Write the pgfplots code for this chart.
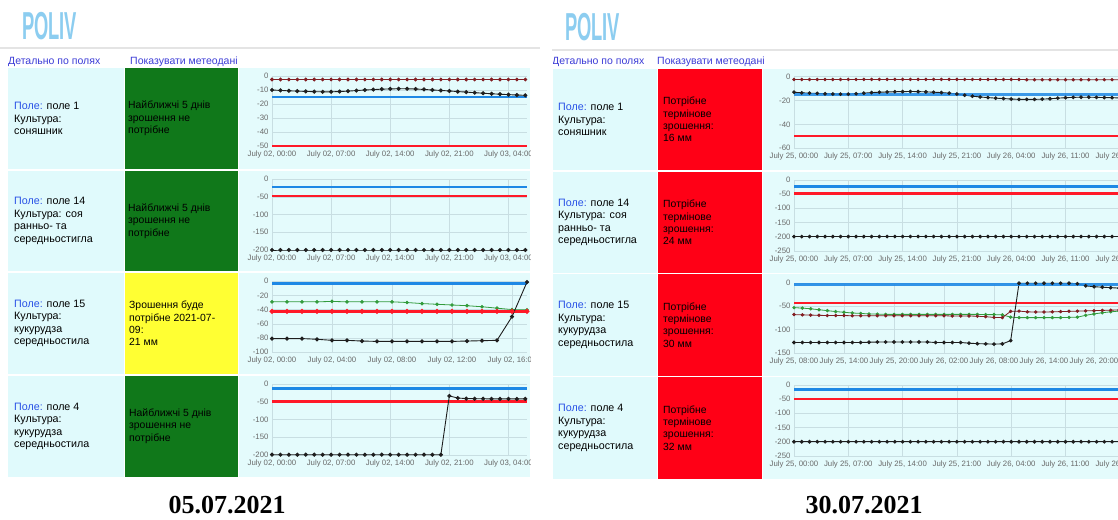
\documentclass[border=0pt]{standalone}
\usepackage{fontspec}
\setmainfont{Liberation Sans}
\newfontfamily\datefont{Liberation Serif}
\usepackage{graphicx}
\usepackage{pgfplots}
\pgfplotsset{compat=1.18}

\definecolor{panelc}{RGB}{224,250,252}
\definecolor{chartc}{RGB}{228,251,252}
\definecolor{gridc}{RGB}{200,222,226}
\definecolor{tickc}{RGB}{105,105,105}
\definecolor{okgreen}{RGB}{16,120,26}
\definecolor{warnyel}{RGB}{255,255,51}
\definecolor{alarmred}{RGB}{255,0,22}
\definecolor{linkc}{RGB}{60,60,215}
\definecolor{fieldc}{RGB}{40,80,230}
\definecolor{logoc}{RGB}{140,205,240}
\definecolor{sepc}{RGB}{228,228,228}
\definecolor{serblue}{RGB}{30,136,229}
\definecolor{serred}{RGB}{255,25,40}
\definecolor{serbrown}{RGB}{130,30,35}
\definecolor{sergreen}{RGB}{50,155,60}
\definecolor{serblack}{RGB}{30,30,30}

\pgfplotsset{
  mini/.style={scale only axis, anchor=south west, clip=false,
    xmin=0, ymax=0, grid=major, grid style={gridc, line width=0.4pt},
    axis line style={draw=none}, major tick length=0pt,
    tick label style={font=\fontsize{7.8}{8.5}\selectfont, text=tickc},
    xticklabel style={yshift=-1.5pt}},
  blk/.style={serblack, line width=0.9pt, mark=*, mark size=1.6pt, mark options={fill=serblack}},
  brn/.style={serbrown, line width=0.8pt, mark=*, mark size=1.5pt, mark options={fill=serbrown}},
  grn/.style={sergreen, line width=0.8pt, mark=*, mark size=1.4pt, mark options={fill=sergreen}},
  lvl/.style={line width=2.6pt, mark=none},
}

\begin{document}
\begin{tikzpicture}
\useasboundingbox (0,0) rectangle (1118pt,-519pt);
\clip (0,0) rectangle (1118pt,-519pt);
\begin{scope}[x=1pt,y=-1pt]
  \fill[white] (0,0) rectangle (1118,519);
  % logos and separators
  \node[anchor=west, inner sep=0, text=logoc, font=\bfseries\fontsize{39}{39}\selectfont] at (22,26) {\scalebox{0.47}[1]{POLIV}};
  \node[anchor=west, inner sep=0, text=logoc, font=\bfseries\fontsize{39}{39}\selectfont] at (565,27) {\scalebox{0.47}[1]{POLIV}};
  \fill[sepc] (0,47) rectangle (540,49);
  \fill[sepc] (552,49) rectangle (1118,51);
  % links
  \node[anchor=base west, inner sep=0, text=linkc, font=\fontsize{10.5}{12}\selectfont] at (8,64) {Детально по полях};
  \node[anchor=base west, inner sep=0, text=linkc, font=\fontsize{10.5}{12}\selectfont] at (130,64) {Показувати метеодані};
  \node[anchor=base west, inner sep=0, text=linkc, font=\fontsize{10.5}{12}\selectfont] at (552,64) {Детально по полях};
  \node[anchor=base west, inner sep=0, text=linkc, font=\fontsize{10.5}{12}\selectfont] at (657,64) {Показувати метеодані};
  % left backgrounds
  \foreach \a/\b in {68/169,171/271,273/374,376/477}{
    \fill[panelc] (8,\a) rectangle (124,\b);
    \fill[chartc] (239,\a) rectangle (530,\b);
  }
  \fill[okgreen] (125,68) rectangle (238,169);
  \fill[okgreen] (125,171) rectangle (238,271);
  \fill[warnyel] (125,273) rectangle (238,374);
  \fill[okgreen] (125,376) rectangle (238,477);
  % right backgrounds
  \foreach \a/\b in {69/170,172/273,274/376,377/479}{
    \fill[panelc] (553,\a) rectangle (657,\b);
    \fill[alarmred] (658,\a) rectangle (762,\b);
    \fill[chartc] (763,\a) rectangle (1118,\b);
  }
  % field texts
  \begin{scope}[every node/.style={anchor=west, align=left, inner sep=0, font=\fontsize{10.7}{12.4}\selectfont}]
    \node at (14,118.5) {\textcolor{fieldc}{Поле:} поле 1\\Культура:\\соняшник};
    \node at (14,221) {\textcolor{fieldc}{Поле:} поле 14\\Культура: соя\\ранньо- та\\середньостигла};
    \node at (14,323.5) {\textcolor{fieldc}{Поле:} поле 15\\Культура:\\кукурудза\\середньостила};
    \node at (14,426.5) {\textcolor{fieldc}{Поле:} поле 4\\Культура:\\кукурудза\\середньостила};
    \node at (558,119.5) {\textcolor{fieldc}{Поле:} поле 1\\Культура:\\соняшник};
    \node at (558,222.5) {\textcolor{fieldc}{Поле:} поле 14\\Культура: соя\\ранньо- та\\середньостигла};
    \node at (558,325) {\textcolor{fieldc}{Поле:} поле 15\\Культура:\\кукурудза\\середньостила};
    \node at (558,428) {\textcolor{fieldc}{Поле:} поле 4\\Культура:\\кукурудза\\середньостила};
  \end{scope}
  % status texts
  \begin{scope}[every node/.style={anchor=west, align=left, inner sep=0, font=\fontsize{10.4}{12.4}\selectfont}]
    \node at (128,118.5) {Найближчі 5 днів\\зрошення не\\потрібне};
    \node at (128,221) {Найближчі 5 днів\\зрошення не\\потрібне};
    \node at (129,323.5) {Зрошення буде\\потрібне 2021-07-\\09:\\21 мм};
    \node at (129,426) {Найближчі 5 днів\\зрошення не\\потрібне};
    \node at (663,119.5) {Потрібне\\термінове\\зрошення:\\16 мм};
    \node at (663,222.5) {Потрібне\\термінове\\зрошення:\\24 мм};
    \node at (663,325) {Потрібне\\термінове\\зрошення:\\30 мм};
    \node at (663,428) {Потрібне\\термінове\\зрошення:\\32 мм};
  \end{scope}
  % dates
  \node[font=\datefont\bfseries\fontsize{26}{28}\selectfont] at (227,505) {05.07.2021};
  \node[font=\datefont\bfseries\fontsize{26}{28}\selectfont] at (864,505) {30.07.2021};
\end{scope}

% ---------- left: 05.07.2021 ----------
\begin{axis}[mini, at={(272pt,-146pt)}, width=255pt, height=70pt, xmax=30.2, ymin=-50,
  xtick={0,7,14,21,28}, xticklabels={{July 02, 00:00},{July 02, 07:00},{July 02, 14:00},{July 02, 21:00},{July 03, 04:00}},
  ytick={0,-10,-20,-30,-40,-50}, yticklabels={0,-10,-20,-30,-40,-50}]
  \addplot[serred, lvl] coordinates {(0,-50) (30.2,-50)};
  \addplot[serblue, lvl] coordinates {(0,-15) (30.2,-15)};
  \addplot[brn] coordinates {(0,-2.5) (1,-2.5) (2,-2.5) (3,-2.5) (4,-2.5) (5,-2.5) (6,-2.5) (7,-2.5) (8,-2.5) (9,-2.5) (10,-2.5) (11,-2.5) (12,-2.5) (13,-2.5) (14,-2.5) (15,-2.5) (16,-2.5) (17,-2.5) (18,-2.5) (19,-2.5) (20,-2.5) (21,-2.5) (22,-2.5) (23,-2.5) (24,-2.5) (25,-2.5) (26,-2.5) (27,-2.5) (28,-2.5) (29,-2.5) (30,-2.5)};
  \addplot[blk] coordinates {(0,-10) (1,-10.3) (2,-10.6) (3,-10.8) (4,-11) (5,-11.2) (6,-11.3) (7,-11.3) (8,-11.1) (9,-10.8) (10,-10.4) (11,-10) (12,-9.7) (13,-9.4) (14,-9.2) (15,-9.1) (16,-9.1) (17,-9.3) (18,-9.6) (19,-10) (20,-10.3) (21,-10.7) (22,-11.1) (23,-11.5) (24,-11.9) (25,-12.3) (26,-12.7) (27,-13) (28,-13.3) (29,-13.6) (30,-13.8)};
\end{axis}

\begin{axis}[mini, at={(272pt,-250pt)}, width=255pt, height=71pt, xmax=30.2, ymin=-200,
  xtick={0,7,14,21,28}, xticklabels={{July 02, 00:00},{July 02, 07:00},{July 02, 14:00},{July 02, 21:00},{July 03, 04:00}},
  ytick={0,-50,-100,-150,-200}, yticklabels={0,-50,-100,-150,-200}]
  \addplot[serblue, lvl] coordinates {(0,-22) (30.2,-22)};
  \addplot[serred, lvl] coordinates {(0,-48) (30.2,-48)};
  \addplot[blk] coordinates {(0,-200) (1,-200) (2,-200) (3,-200) (4,-200) (5,-200) (6,-200) (7,-200) (8,-200) (9,-200) (10,-200) (11,-200) (12,-200) (13,-200) (14,-200) (15,-200) (16,-200) (17,-200) (18,-200) (19,-200) (20,-200) (21,-200) (22,-200) (23,-200) (24,-200) (25,-200) (26,-200) (27,-200) (28,-200) (29,-200) (30,-200)};
\end{axis}

\begin{axis}[mini, at={(272pt,-352pt)}, width=255pt, height=70.7pt, xmax=17, ymin=-100,
  xtick={0,4,8,12,16}, xticklabels={{July 02, 00:00},{July 02, 04:00},{July 02, 08:00},{July 02, 12:00},{July 02, 16:00}},
  ytick={0,-20,-40,-60,-80,-100}, yticklabels={0,-20,-40,-60,-80,-100}]
  \addplot[serblue, lvl] coordinates {(0,-3.5) (17,-3.5)};
  \addplot[grn] coordinates {(0,-29) (1,-29) (2,-29) (3,-29) (4,-28.5) (5,-29) (6,-29) (7,-29) (8,-29) (9,-30) (10,-31.5) (11,-32.5) (12,-33.5) (13,-34.5) (14,-36) (15,-38) (16,-40) (17,-40.5)};
  \addplot[serred, line width=2.4pt, mark=*, mark size=1pt, mark options={fill=serbrown, draw=none}] coordinates {(0,-42.5) (1,-42.5) (2,-42.5) (3,-42.5) (4,-42.5) (5,-42.5) (6,-42.5) (7,-42.5) (8,-42.5) (9,-42.5) (10,-42.5) (11,-42.5) (12,-42.5) (13,-42.5) (14,-42.5) (15,-42.5) (16,-42.5) (17,-42.5)};
  \addplot[blk] coordinates {(0,-81) (1,-81) (2,-81) (3,-82) (4,-83.5) (5,-83.5) (6,-84.5) (7,-85) (8,-85) (9,-85) (10,-85) (11,-85) (12,-85) (13,-84.5) (14,-84) (15,-83.5) (16,-50) (17,-1)};
\end{axis}

\begin{axis}[mini, at={(272pt,-454.7pt)}, width=255pt, height=70.4pt, xmax=30.2, ymin=-200,
  xtick={0,7,14,21,28}, xticklabels={{July 02, 00:00},{July 02, 07:00},{July 02, 14:00},{July 02, 21:00},{July 03, 04:00}},
  ytick={0,-50,-100,-150,-200}, yticklabels={0,-50,-100,-150,-200}]
  \addplot[serblue, lvl] coordinates {(0,-12.5) (30.2,-12.5)};
  \addplot[serred, lvl] coordinates {(0,-48) (30.2,-48)};
  \addplot[blk] coordinates {(0,-200) (1,-200) (2,-200) (3,-200) (4,-200) (5,-200) (6,-200) (7,-200) (8,-200) (9,-200) (10,-200) (11,-200) (12,-200) (13,-200) (14,-200) (15,-200) (16,-200) (17,-200) (18,-200) (19,-200) (20,-200) (21,-33) (22,-39) (23,-40.5) (24,-41) (25,-41) (26,-41.5) (27,-41.5) (28,-41.5) (29,-41.5) (30,-41.5)};
\end{axis}

\begin{scope}[x=1pt,y=-1pt]
  \fill[white] (530.5,55) rectangle (552.5,490);
\end{scope}

% ---------- right: 30.07.2021 ----------
\begin{axis}[mini, at={(794pt,-148.3pt)}, width=340pt, height=71.6pt, xmax=43.83, ymin=-60,
  xtick={0,7,14,21,28,35,42}, xticklabels={{July 25, 00:00},{July 25, 07:00},{July 25, 14:00},{July 25, 21:00},{July 26, 04:00},{July 26, 11:00},{July 26, 18:00}},
  ytick={0,-20,-40,-60}, yticklabels={0,-20,-40,-60}]
  \addplot[serred, lvl] coordinates {(0,-49.6) (43.83,-49.6)};
  \addplot[brn, mark size=1.3pt] coordinates {(0,-2.3) (1,-2.3) (2,-2.3) (3,-2.3) (4,-2.3) (5,-2.3) (6,-2.3) (7,-2.3) (8,-2.3) (9,-2.3) (10,-2.3) (11,-2.3) (12,-2.3) (13,-2.3) (14,-2.3) (15,-2.3) (16,-2.3) (17,-2.3) (18,-2.3) (19,-2.3) (20,-2.3) (21,-2.3) (22,-2.3) (23,-2.3) (24,-2.3) (25,-2.3) (26,-2.3) (27,-2.3) (28,-2.3) (29,-2.3) (30,-2.5) (31,-2.5) (32,-2.5) (33,-2.5) (34,-2.5) (35,-2.5) (36,-2.5) (37,-2.5) (38,-2.5) (39,-2.5) (40,-2.5) (41,-2.5) (42,-2.5) (43,-2.5)};
  \addplot[blk, mark size=1.4pt] coordinates {(0,-13) (1,-13.5) (2,-13.8) (3,-14) (4,-14.3) (5,-14.5) (6,-14.6) (7,-14.6) (8,-14.3) (9,-13.8) (10,-13.3) (11,-13) (12,-12.8) (13,-12.6) (14,-12.5) (15,-12.4) (16,-12.5) (17,-12.7) (18,-13) (19,-13.3) (20,-13.8) (21,-14.5) (22,-15.5) (23,-16.3) (24,-17) (25,-17.5) (26,-18) (27,-18.3) (28,-18.7) (29,-19) (30,-19) (31,-19) (32,-18.8) (33,-18.5) (34,-18) (35,-17.6) (36,-17.3) (37,-17.2) (38,-17.2) (39,-17.3) (40,-17.5) (41,-17.6) (42,-17.8) (43,-18)};
  \addplot[serblue, lvl, opacity=0.85] coordinates {(0,-14.7) (43.83,-14.7)};
\end{axis}

\begin{axis}[mini, at={(794pt,-250.7pt)}, width=340pt, height=70.7pt, xmax=43.83, ymin=-250,
  xtick={0,7,14,21,28,35,42}, xticklabels={{July 25, 00:00},{July 25, 07:00},{July 25, 14:00},{July 25, 21:00},{July 26, 04:00},{July 26, 11:00},{July 26, 18:00}},
  ytick={0,-50,-100,-150,-200,-250}, yticklabels={0,-50,-100,-150,-200,-250}]
  \addplot[serblue, lvl] coordinates {(0,-22) (43.83,-22)};
  \addplot[serred, lvl] coordinates {(0,-48) (43.83,-48)};
  \addplot[blk, mark size=1.4pt] coordinates {(0,-200) (1,-200) (2,-200) (3,-200) (4,-200) (5,-200) (6,-200) (7,-200) (8,-200) (9,-200) (10,-200) (11,-200) (12,-200) (13,-200) (14,-200) (15,-200) (16,-200) (17,-200) (18,-200) (19,-200) (20,-200) (21,-200) (22,-200) (23,-200) (24,-200) (25,-200) (26,-200) (27,-200) (28,-200) (29,-200) (30,-200) (31,-200) (32,-200) (33,-200) (34,-200) (35,-200) (36,-200) (37,-200) (38,-200) (39,-200) (40,-200) (41,-200) (42,-200) (43,-200)};
\end{axis}

\begin{axis}[mini, at={(794pt,-352.7pt)}, width=340pt, height=69.7pt, xmax=40.8, ymin=-150,
  xtick={0,6,12,18,24,30,36}, xticklabels={{July 25, 08:00},{July 25, 14:00},{July 25, 20:00},{July 26, 02:00},{July 26, 08:00},{July 26, 14:00},{July 26, 20:00}},
  ytick={0,-50,-100,-150}, yticklabels={0,-50,-100,-150}]
  \addplot[serred, lvl] coordinates {(0,-42.7) (40.8,-42.7)};
  \addplot[grn, mark size=1.3pt] coordinates {(0,-53) (1,-54) (2,-55.5) (3,-57.5) (4,-59.5) (5,-61.5) (6,-63) (7,-64.5) (8,-65.5) (9,-66.5) (10,-67) (11,-67.5) (12,-67.5) (13,-67.5) (14,-67.5) (15,-67.5) (16,-67.5) (17,-67.5) (18,-67.5) (19,-67.5) (20,-67.5) (21,-67.5) (22,-67.5) (23,-68) (24,-68) (25,-68.5) (26,-73.5) (27,-74.5) (28,-74.5) (29,-74.5) (30,-74.5) (31,-74.5) (32,-74.5) (33,-74) (34,-73.5) (35,-69.5) (36,-66.5) (37,-64) (38,-62) (39,-60.5) (40,-59)};
  \addplot[brn, mark size=1.3pt] coordinates {(0,-68) (1,-68.5) (2,-69) (3,-69.5) (4,-70) (5,-70) (6,-70) (7,-70.5) (8,-70.5) (9,-70.5) (10,-70.5) (11,-70.5) (12,-70.5) (13,-70.5) (14,-70.5) (15,-70.5) (16,-70.5) (17,-70.5) (18,-70.5) (19,-71) (20,-71) (21,-71) (22,-71.5) (23,-72.5) (24,-74) (25,-74.5) (26,-61) (27,-60.5) (28,-62) (29,-62.5) (30,-62.5) (31,-62) (32,-61.5) (33,-61) (34,-60.5) (35,-60) (36,-59.5) (37,-59) (38,-58.5) (39,-58) (40,-58)};
  \addplot[blk, mark size=1.4pt] coordinates {(0,-128) (1,-128) (2,-128) (3,-128) (4,-128) (5,-128) (6,-128) (7,-128) (8,-128) (9,-127.5) (10,-127) (11,-127) (12,-127) (13,-127) (14,-127) (15,-127) (16,-127) (17,-128) (18,-128) (19,-128) (20,-128) (21,-129.5) (22,-130.5) (23,-131) (24,-131.5) (25,-131) (26,-124) (27,-0.5) (28,-0.5) (29,-0.5) (30,-0.5) (31,-0.5) (32,-0.5) (33,-0.5) (34,-1.5) (35,-6) (36,-8) (37,-9) (38,-10) (39,-11) (40,-12)};
  \addplot[serblue, lvl, opacity=0.9] coordinates {(0,-3.6) (40.8,-3.6)};
\end{axis}

\begin{axis}[mini, at={(794pt,-456pt)}, width=340pt, height=71.3pt, xmax=43.83, ymin=-250,
  xtick={0,7,14,21,28,35,42}, xticklabels={{July 25, 00:00},{July 25, 07:00},{July 25, 14:00},{July 25, 21:00},{July 26, 04:00},{July 26, 11:00},{July 26, 18:00}},
  ytick={0,-50,-100,-150,-200,-250}, yticklabels={0,-50,-100,-150,-200,-250}]
  \addplot[serblue, lvl] coordinates {(0,-16) (43.83,-16)};
  \addplot[serred, lvl] coordinates {(0,-50) (43.83,-50)};
  \addplot[blk, mark size=1.4pt] coordinates {(0,-200) (1,-200) (2,-200) (3,-200) (4,-200) (5,-200) (6,-200) (7,-200) (8,-200) (9,-200) (10,-200) (11,-200) (12,-200) (13,-200) (14,-200) (15,-200) (16,-200) (17,-200) (18,-200) (19,-200) (20,-200) (21,-200) (22,-200) (23,-200) (24,-200) (25,-200) (26,-200) (27,-200) (28,-200) (29,-200) (30,-200) (31,-200) (32,-200) (33,-200) (34,-200) (35,-200) (36,-200) (37,-200) (38,-200) (39,-200) (40,-200) (41,-200) (42,-200) (43,-200)};
\end{axis}
\end{tikzpicture}
\end{document}
